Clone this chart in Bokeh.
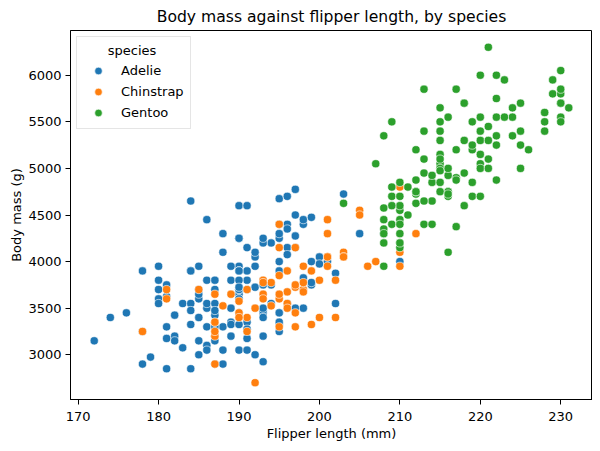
from bokeh.plotting import figure
from bokeh.models import FixedTicker, ColumnDataSource
from bokeh.embed import file_html
from bokeh.resources import INLINE

species = ["Adelie", "Chinstrap", "Gentoo"]
colors = ["#1f77b4", "#ff7f0e", "#2ca02c"]

adelie_flipper = [181,186,195,193,190,181,195,193,190,186,180,182,191,198,185,195,197,184,194,
    174,180,189,185,180,187,183,187,172,180,
    178,178,188,184,195,196,190,180,181,184,182,195,186,196,185,190,182,179,190,191,
    186,188,190,200,187,191,186,193,181,194,185,195,185,192,184,192,195,188,
    190,198,190,190,196,197,190,195,191,184,187,195,189,196,187,193,
    191,194,190,189,189,190,202,205,185,186,187,208,190,196,178,192,
    192,203,183,190,193,184,199,190,181,197,198,191,193,197,191,196,
    188,199,189,189,187,198,176,202,186,199,191,195,191,210,190,197,
    193,199,187,190,191,200,185,193,193,187,188,190,192,185,190,184,195,193,187,201]
adelie_mass = [3750,3800,3250,3450,3650,3625,4675,3475,4250,3300,3700,3200,3800,4400,3700,3450,4500,3325,4200,
    3400,3600,3800,3950,3800,3800,3550,3200,3150,3950,
    3250,3900,3300,3900,3325,4150,3950,3550,3300,4650,3150,3900,3100,4400,3000,4600,3425,2975,3450,4150,
    3500,4300,3450,4050,2900,3700,3550,3800,2850,3750,3150,4400,3600,4050,2850,3950,3350,4100,
    3050,4450,3600,3900,3550,4150,3700,4250,3700,3900,3550,4000,3200,4700,3800,4200,
    3350,3550,3800,3500,3950,3600,3550,4300,3400,4450,3300,4300,3700,4350,2900,4100,
    3725,4725,3075,4250,2925,3550,3750,3900,3175,4775,3825,4600,3200,4275,3900,4075,
    2900,3775,3350,3325,3150,3500,3450,3875,3050,4000,3275,4300,3050,4000,3325,3500,
    3500,4475,3425,3900,3175,3975,3400,4250,3400,3475,3050,3725,3000,3650,4250,3475,3450,3750,3700,4000]

chinstrap_flipper = [192,196,193,188,197,198,178,197,195,198,193,194,185,201,190,201,197,181,190,195,
    181,191,187,193,195,197,200,200,191,205,187,201,187,203,195,199,195,210,192,205,
    210,187,196,196,196,201,190,212,187,198,199,201,193,203,187,197,191,203,202,194,
    206,189,195,207,202,193,210,198]
chinstrap_mass = [3500,3900,3650,3525,3725,3950,3250,3750,4150,3700,3800,3775,3700,4050,3575,4050,3300,3700,3450,4400,
    3600,3400,2900,3800,3300,4150,3400,3800,3700,4550,3200,4300,3350,4100,3600,3900,3850,4800,2700,4500,
    3950,3650,3550,3500,3675,4450,3400,4300,3250,3675,3325,3950,3600,4050,3350,3450,3250,4050,3800,3525,
    3950,3650,3650,4000,3400,3775,4100,3775]

gentoo_flipper = [211,230,210,218,215,210,211,219,209,215,214,216,214,213,210,217,210,221,209,222,
    218,215,213,215,215,215,216,215,210,220,222,209,207,230,220,220,213,219,208,208,
    208,225,210,216,222,217,210,225,213,215,210,220,210,225,217,220,208,220,208,224,
    208,221,214,231,219,230,214,229,220,223,216,221,221,217,216,230,209,220,215,223,
    212,221,212,224,212,228,218,218,212,230,218,228,212,224,214,226,216,222,203,225,
    219,228,215,228,216,215,210,219,208,209,216,229,213,230,217,230,217,222,214,215,
    222,212,213]
gentoo_mass = [4500,5700,4450,5700,5400,4550,4800,5200,4400,5150,4650,5550,4650,5850,4200,5850,4150,6300,4800,5350,
    5700,5000,4400,5050,5000,5100,4100,5650,4600,5550,5250,4700,5050,6050,5150,5400,4950,5250,4350,5350,
    3950,5700,4300,4750,5550,4900,4200,5400,5100,5300,4850,5300,4400,5000,4900,5050,4300,5000,4450,5550,
    4200,5300,4400,5650,4700,5700,4650,5800,4700,5550,4750,5000,5100,5200,4700,5800,4600,6000,4750,5950,
    4625,5450,4725,5350,4750,5600,4600,5300,4875,5550,4950,5400,4750,5650,4850,5200,4925,4875,4625,5250,
    4850,5600,4975,5500,4725,5500,4700,5500,4575,5500,5000,5950,4650,5500,4375,5850,4875,6000,4925,4850,
    5750,5200,5400]

x_ticks = [170, 180, 190, 200, 210, 220, 230]
y_ticks = [3000, 3500, 4000, 4500, 5000, 5500, 6000]

FONT = "DejaVu Sans"

p = figure(frame_width=522, frame_height=369, output_backend="svg", toolbar_location=None,
           x_range=(169.05, 233.95), y_range=(2520, 6480),
           title="Body mass against flipper length, by species",
           min_border_left=56, min_border_right=0, min_border_bottom=44, min_border_top=22)
p.margin = (0, 0, 0, 6)

series = [(adelie_flipper, adelie_mass), (chinstrap_flipper, chinstrap_mass), (gentoo_flipper, gentoo_mass)]
for name, color, (fx, my) in zip(species, colors, series):
    src = ColumnDataSource(dict(x=fx, y=my))
    p.scatter("x", "y", source=src, size=8.2, fill_color=color, line_color="white",
              line_width=0.6, legend_label=name)

p.grid.visible = False
p.outline_line_color = "black"
p.outline_line_width = 1
p.background_fill_color = "white"

p.title.text_font = FONT
p.title.text_font_size = "15.6px"
p.title.text_font_style = "normal"
p.title.align = "center"
p.title.text_color = "black"

for ax, ticks in ((p.xaxis[0], x_ticks), (p.yaxis[0], y_ticks)):
    ax.ticker = FixedTicker(ticks=ticks)
    ax.minor_tick_line_color = None
    ax.major_tick_in = 0
    ax.major_tick_out = 5
    ax.major_tick_line_color = "black"
    ax.axis_line_color = "black"
    ax.major_label_text_font = FONT
    ax.major_label_text_font_size = "13px"
    ax.major_label_text_color = "black"
    ax.axis_label_text_font = FONT
    ax.axis_label_text_font_size = "13px"
    ax.axis_label_text_font_style = "normal"
    ax.axis_label_text_color = "black"

p.xaxis.major_label_standoff = 7
p.yaxis.major_label_standoff = 4
p.xaxis.axis_label = "Flipper length (mm)"
p.yaxis.axis_label = "Body mass (g)"
p.xaxis.axis_label_standoff = 2
p.yaxis.axis_label_standoff = 1

lg = p.legend[0]
lg.title = "\u00a0" * 6 + "species"
lg.title_text_font = FONT
lg.title_text_font_size = "13px"
lg.title_text_font_style = "normal"
lg.title_text_color = "black"
lg.title_standoff = 2
lg.label_text_font = FONT
lg.label_text_font_size = "13px"
lg.label_text_color = "black"
lg.location = "top_left"
lg.margin = 6
lg.padding = 6
lg.spacing = 1
lg.label_height = 20
lg.glyph_height = 19
lg.glyph_width = 30
lg.label_standoff = 8
lg.border_line_color = "#cccccc"
lg.border_line_width = 1
lg.background_fill_alpha = 0.8

open("out.html", "w").write(file_html(p, INLINE))
